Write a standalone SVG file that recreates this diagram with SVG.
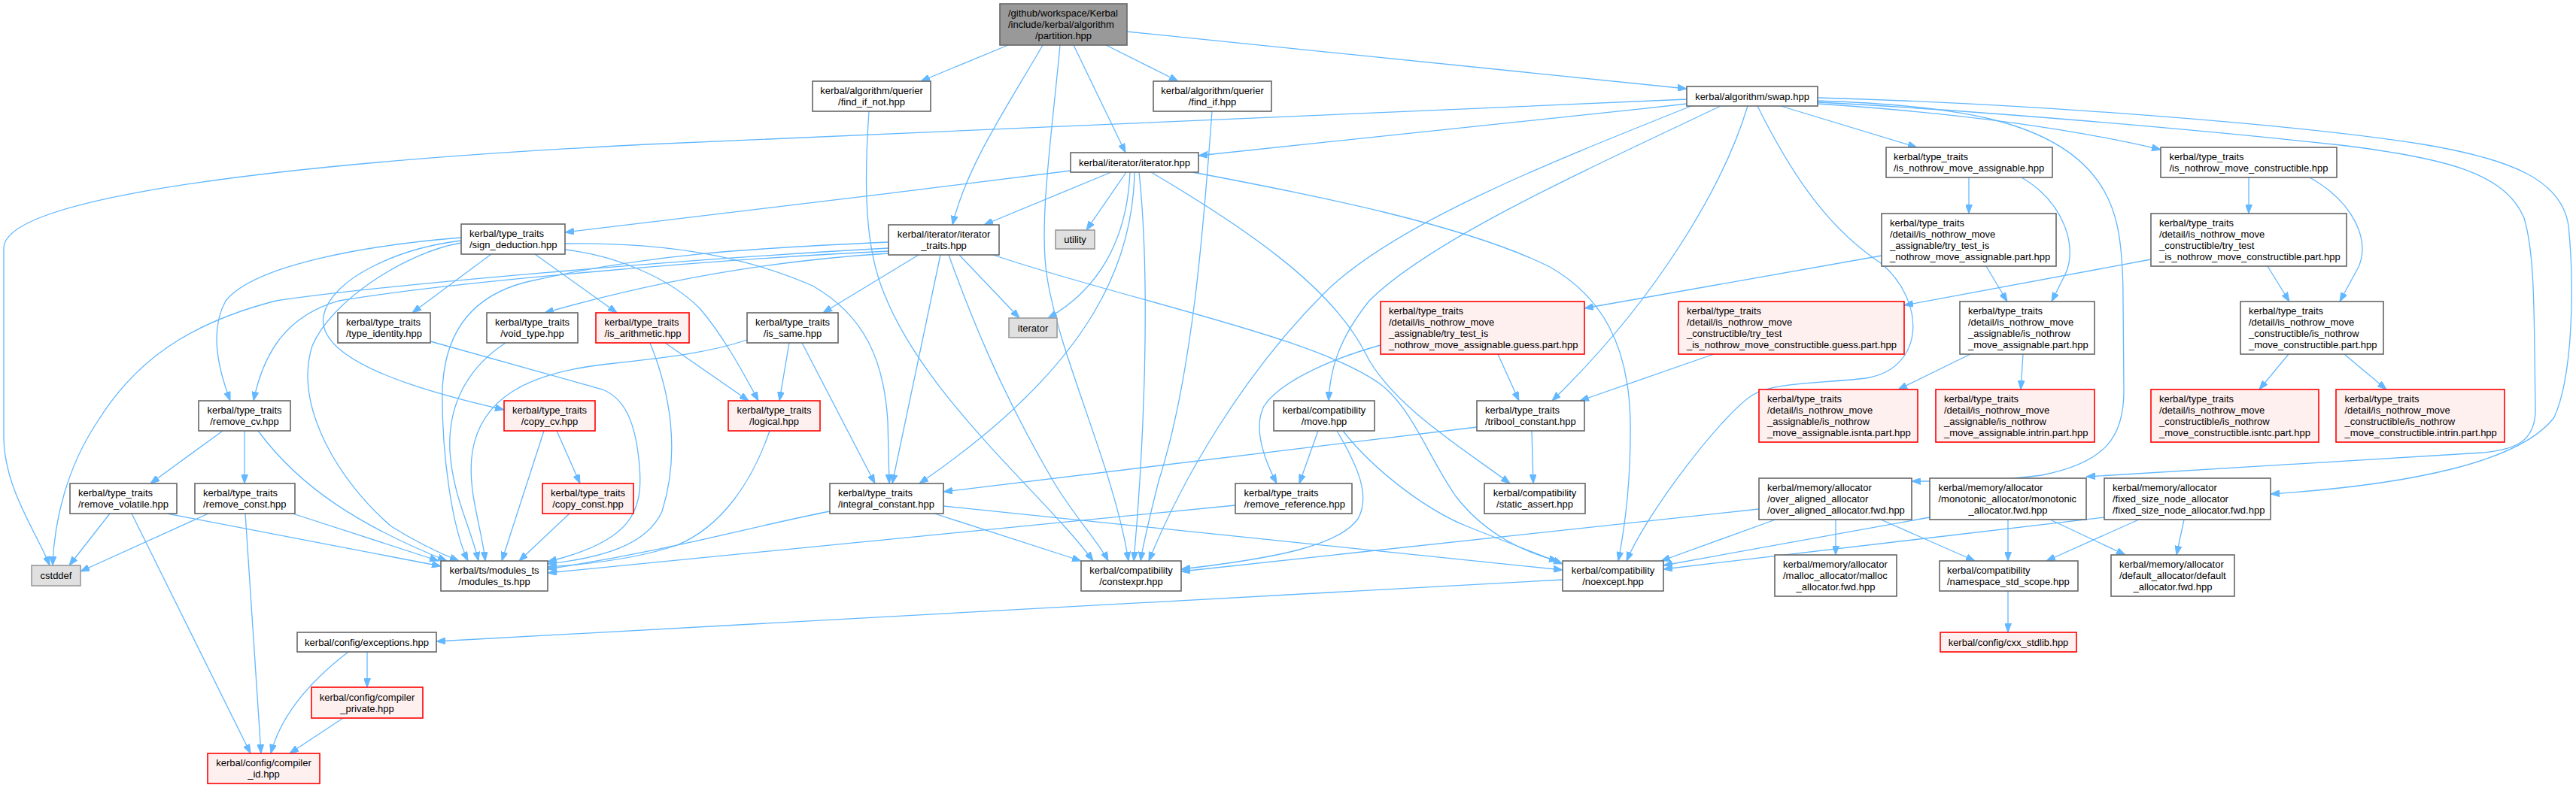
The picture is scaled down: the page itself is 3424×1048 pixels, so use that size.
<svg xmlns="http://www.w3.org/2000/svg" width="3424" height="1048" viewBox="0 0 3424 1048">
<defs>
<style>
.e{fill:none;stroke:#63b8ff;stroke-width:1.3;marker-end:url(#a)}
.n rect{fill:#ffffff;stroke:#666666;stroke-width:1.6}
.r rect{fill:#fff0f0;stroke:#ff0000;stroke-width:1.6}
.g rect{fill:#e0e0e0;stroke:#999999;stroke-width:1.6}
.mn rect{fill:#999999;stroke:#666666;stroke-width:1.6}
text{font-family:"Liberation Sans",Arial,Helvetica,sans-serif;font-size:13px;fill:#000000}
.c{text-anchor:middle}
</style>
<marker id="a" markerWidth="12" markerHeight="9" refX="12" refY="4.5" orient="auto" markerUnits="userSpaceOnUse"><path d="M0,0 L12,4.5 L0,9 z" fill="#63b8ff" stroke="#63b8ff" stroke-width="1"/></marker>
</defs>
<rect x="0" y="0" width="3424" height="1048" fill="#ffffff"/>
<g id="connectors">
<path class="e" d="M1340,60 L1224,108"/>
<path class="e" d="M1470,60 L1566,108"/>
<path class="e" d="M1386,60 C1340,140 1285,220 1266,299"/>
<path class="e" d="M1409,60 C1398,180 1380,300 1392,370 C1410,480 1480,620 1500,746"/>
<path class="e" d="M1427,60 L1496,203"/>
<path class="e" d="M1498,42 L2242,118"/>
<path class="e" d="M1155,148 C1148,250 1150,330 1175,390 C1230,530 1390,660 1453,746"/>
<path class="e" d="M1611,148 C1600,300 1585,500 1540,640 C1530,680 1520,720 1516,746"/>
<path class="e" d="M1423,227 C1200,255 900,292 751,309"/>
<path class="e" d="M1477,229 L1308,299"/>
<path class="e" d="M1497,229 L1444,306"/>
<path class="e" d="M1502,229 C1498,320 1460,385 1393,423"/>
<path class="e" d="M1508,229 C1506,340 1460,480 1222,643"/>
<path class="e" d="M1514,229 C1530,380 1520,600 1507,746"/>
<path class="e" d="M1530,229 C1650,300 1770,380 1815,470 C1850,540 1950,600 2007,643"/>
<path class="e" d="M1585,229 C1750,260 1950,300 2060,355 C2130,395 2165,460 2167,560 C2168,640 2160,700 2151,746"/>
<path class="e" d="M2242,138 C2000,165 1750,192 1593,207"/>
<path class="e" d="M2242,132 L860,192 C400,215 5,260 5,330 L5,580 C5,650 50,710 66,752"/>
<path class="e" d="M2367,141 L2548,196"/>
<path class="e" d="M2416,138 C2600,150 2750,170 2872,199"/>
<path class="e" d="M2416,134 C2600,140 2720,160 2780,230 C2815,270 2822,320 2822,400 L2823,520 C2823,580 2800,615 2714,632 C2650,640 2600,640 2541,640"/>
<path class="e" d="M2416,136 C2600,145 2900,170 3111,193 C3250,210 3330,230 3355,290 C3370,340 3368,420 3370,540 C3372,590 3340,598 3300,602 C3100,615 2900,625 2773,634"/>
<path class="e" d="M2416,130 C2700,138 3050,165 3221,192 C3340,212 3405,240 3414,300 C3422,380 3420,500 3395,555 C3350,615 3200,645 3018,657"/>
<path class="e" d="M2287,141 C2100,230 1900,320 1820,400 C1780,450 1768,490 1766,533"/>
<path class="e" d="M2323,141 C2290,250 2200,400 2063,533"/>
<path class="e" d="M2248,141 C2050,220 1850,300 1760,390 C1650,500 1570,640 1527,746"/>
<path class="e" d="M2336,141 C2390,250 2440,310 2500,350 C2560,400 2560,490 2480,503 C2420,510 2360,508 2330,525 C2290,550 2190,680 2162,746"/>
<path class="e" d="M2617,236 L2617,284"/>
<path class="e" d="M2687,236 C2745,270 2762,330 2745,365 L2727,401"/>
<path class="e" d="M2989,236 L2989,284"/>
<path class="e" d="M3070,236 C3130,270 3150,320 3135,355 L3110,401"/>
<path class="e" d="M2501,340 L2106,410"/>
<path class="e" d="M2859,345 L2531,406"/>
<path class="e" d="M2640,354 L2668,401"/>
<path class="e" d="M3014,354 L3043,401"/>
<path class="e" d="M1991,471 L2019,533"/>
<path class="e" d="M2278,471 L2100,533"/>
<path class="e" d="M1835,459 C1760,480 1700,510 1680,540 C1665,570 1680,610 1697,643"/>
<path class="e" d="M2619,471 L2523,518"/>
<path class="e" d="M2689,471 L2686,518"/>
<path class="e" d="M3042,471 L3003,518"/>
<path class="e" d="M3116,471 L3172,518"/>
<path class="e" d="M2036,573 L2038,643"/>
<path class="e" d="M1963,568 L1254,654"/>
<path class="e" d="M1752,573 L1727,643"/>
<path class="e" d="M1777,573 C1805,620 1822,660 1805,690 C1780,725 1700,742 1570,757"/>
<path class="e" d="M1785,573 C1830,630 1900,680 1950,700 C2000,720 2040,735 2077,750"/>
<path class="e" d="M2338,677 L1570,760"/>
<path class="e" d="M1320,339 C1500,400 1760,450 1840,515 C1880,550 1900,610 1935,660 C1975,712 2030,736 2071,746"/>
<path class="e" d="M1254,673 L2077,758"/>
<path class="e" d="M1242,683 L1437,746"/>
<path class="e" d="M1103,680 C1000,700 900,730 728,757"/>
<path class="e" d="M2360,691 L2208,746"/>
<path class="e" d="M2440,691 L2440,738"/>
<path class="e" d="M2500,691 L2625,746"/>
<path class="e" d="M2565,688 L2211,752"/>
<path class="e" d="M2797,688 L2211,757"/>
<path class="e" d="M2669,691 L2669,746"/>
<path class="e" d="M2725,691 L2825,738"/>
<path class="e" d="M2843,691 L2720,746"/>
<path class="e" d="M2903,691 L2893,738"/>
<path class="e" d="M2669,786 L2669,841"/>
<path class="e" d="M2077,771 L580,853"/>
<path class="e" d="M488,867 L488,914"/>
<path class="e" d="M463,867 C420,900 375,945 360,1002"/>
<path class="e" d="M456,955 L385,1002"/>
<path class="e" d="M175,683 L333,1002"/>
<path class="e" d="M326,683 L347,1002"/>
<path class="e" d="M146,683 L92,752"/>
<path class="e" d="M277,683 L107,760"/>
<path class="e" d="M222,683 L586,753"/>
<path class="e" d="M389,683 L583,746"/>
<path class="e" d="M296,573 L200,643"/>
<path class="e" d="M325,573 L325,643"/>
<path class="e" d="M343,573 C400,650 480,700 594,746"/>
<path class="e" d="M740,573 L771,643"/>
<path class="e" d="M723,573 L667,746"/>
<path class="e" d="M757,683 L690,746"/>
<path class="e" d="M653,338 L548,416"/>
<path class="e" d="M711,338 L820,416"/>
<path class="e" d="M613,316 C500,325 340,350 300,400 C278,440 290,490 306,533"/>
<path class="e" d="M613,320 C530,330 440,370 430,420 C420,480 560,520 670,545"/>
<path class="e" d="M613,323 C540,335 440,400 415,460 C390,540 450,640 520,700 C560,725 590,738 610,746"/>
<path class="e" d="M751,332 C820,340 890,370 930,410 C960,445 985,490 1008,533"/>
<path class="e" d="M751,324 C900,322 1000,345 1080,380 C1150,420 1175,480 1180,560 L1182,643"/>
<path class="e" d="M1049,456 L1036,533"/>
<path class="e" d="M1066,456 L1163,643"/>
<path class="e" d="M993,452 C940,470 880,476 800,485 C700,497 640,530 628,600 C620,650 640,700 645,746"/>
<path class="e" d="M884,456 L995,533"/>
<path class="e" d="M864,456 C890,520 905,600 880,680 C860,725 800,742 728,750"/>
<path class="e" d="M1023,573 C1000,640 960,700 900,725 C850,742 790,750 728,754"/>
<path class="e" d="M1642,672 L728,762"/>
<path class="e" d="M572,454 L801,518 C830,530 845,560 850,620 C855,680 840,720 728,747"/>
<path class="e" d="M672,456 C620,490 595,540 598,600 C602,660 625,700 636,746"/>
<path class="e" d="M1181,322 C1000,330 860,338 700,375 C620,395 590,450 588,520 C587,600 600,700 622,746"/>
<path class="e" d="M1181,330 C900,345 500,380 367,400 C250,430 180,480 130,560 C90,620 72,690 70,752"/>
<path class="e" d="M1181,334 C950,345 600,375 450,400 C380,420 350,470 337,533"/>
<path class="e" d="M1181,337 C1000,348 850,380 724,416"/>
<path class="e" d="M1275,339 L1355,423"/>
<path class="e" d="M1221,339 L1094,416"/>
<path class="e" d="M1250,339 L1186,643"/>
<path class="e" d="M1261,339 C1290,420 1330,520 1400,640 C1430,690 1460,720 1473,746"/>
</g>
<g id="node_main" class="mn"><rect x="1329" y="5" width="169" height="55"/><text><tspan x="1340" y="22">/github/workspace/Kerbal</tspan><tspan x="1340" y="37">/include/kerbal/algorithm</tspan><tspan class="c" x="1413.5" y="52">/partition.hpp</tspan></text></g>
<g id="node_find_if_not" class="n"><rect x="1080" y="108" width="157" height="40"/><text class="c"><tspan x="1158.5" y="125">kerbal/algorithm/querier</tspan><tspan x="1158.5" y="140">/find_if_not.hpp</tspan></text></g>
<g id="node_find_if" class="n"><rect x="1533" y="108" width="157" height="40"/><text class="c"><tspan x="1611.5" y="125">kerbal/algorithm/querier</tspan><tspan x="1611.5" y="140">/find_if.hpp</tspan></text></g>
<g id="node_swap" class="n"><rect x="2242" y="115" width="174" height="26"/><text class="c" x="2329" y="132.5">kerbal/algorithm/swap.hpp</text></g>
<g id="node_iterator_hpp" class="n"><rect x="1423" y="203" width="170" height="26"/><text class="c" x="1508" y="220.5">kerbal/iterator/iterator.hpp</text></g>
<g id="node_is_nothrow_move_assignable" class="n"><rect x="2507" y="196" width="221" height="40"/><text><tspan x="2517" y="213">kerbal/type_traits</tspan><tspan x="2517" y="228">/is_nothrow_move_assignable.hpp</tspan></text></g>
<g id="node_is_nothrow_move_constructible" class="n"><rect x="2872" y="196" width="234" height="40"/><text><tspan x="2883.5" y="213">kerbal/type_traits</tspan><tspan x="2883.5" y="228">/is_nothrow_move_constructible.hpp</tspan></text></g>
<g id="node_iterator_traits" class="n"><rect x="1181" y="299" width="147" height="40"/><text class="c"><tspan x="1254.5" y="316">kerbal/iterator/iterator</tspan><tspan x="1254.5" y="331">_traits.hpp</tspan></text></g>
<g id="node_utility" class="g"><rect x="1403" y="306" width="52" height="25"/><text class="c" x="1429" y="323">utility</text></g>
<g id="node_sign_deduction" class="n"><rect x="613" y="298" width="138" height="40"/><text><tspan x="624" y="315">kerbal/type_traits</tspan><tspan x="624" y="330">/sign_deduction.hpp</tspan></text></g>
<g id="node_try_test_assignable_part" class="n"><rect x="2501" y="284" width="232" height="70"/><text><tspan x="2512" y="301">kerbal/type_traits</tspan><tspan x="2512" y="316">/detail/is_nothrow_move</tspan><tspan x="2512" y="331">_assignable/try_test_is</tspan><tspan x="2512" y="346">_nothrow_move_assignable.part.hpp</tspan></text></g>
<g id="node_try_test_constructible_part" class="n"><rect x="2859" y="284" width="260" height="70"/><text><tspan x="2870" y="301">kerbal/type_traits</tspan><tspan x="2870" y="316">/detail/is_nothrow_move</tspan><tspan x="2870" y="331">_constructible/try_test</tspan><tspan x="2870" y="346">_is_nothrow_move_constructible.part.hpp</tspan></text></g>
<g id="node_type_identity" class="n"><rect x="449" y="416" width="123" height="40"/><text><tspan x="460" y="433">kerbal/type_traits</tspan><tspan x="460" y="448">/type_identity.hpp</tspan></text></g>
<g id="node_void_type" class="n"><rect x="647" y="416" width="121" height="40"/><text class="c"><tspan x="707.5" y="433">kerbal/type_traits</tspan><tspan x="707.5" y="448">/void_type.hpp</tspan></text></g>
<g id="node_is_arithmetic" class="r"><rect x="792" y="416" width="124" height="40"/><text><tspan x="803.5" y="433">kerbal/type_traits</tspan><tspan x="803.5" y="448">/is_arithmetic.hpp</tspan></text></g>
<g id="node_is_same" class="n"><rect x="993" y="416" width="121" height="40"/><text class="c"><tspan x="1053.5" y="433">kerbal/type_traits</tspan><tspan x="1053.5" y="448">/is_same.hpp</tspan></text></g>
<g id="node_iterator" class="g"><rect x="1341" y="423" width="64" height="26"/><text class="c" x="1373" y="440.5">iterator</text></g>
<g id="node_assignable_guess" class="r"><rect x="1835" y="401" width="271" height="70"/><text><tspan x="1846" y="418">kerbal/type_traits</tspan><tspan x="1846" y="433">/detail/is_nothrow_move</tspan><tspan x="1846" y="448">_assignable/try_test_is</tspan><tspan x="1846" y="463">_nothrow_move_assignable.guess.part.hpp</tspan></text></g>
<g id="node_constructible_guess" class="r"><rect x="2231" y="401" width="300" height="70"/><text><tspan x="2242" y="418">kerbal/type_traits</tspan><tspan x="2242" y="433">/detail/is_nothrow_move</tspan><tspan x="2242" y="448">_constructible/try_test</tspan><tspan x="2242" y="463">_is_nothrow_move_constructible.guess.part.hpp</tspan></text></g>
<g id="node_assignable_part" class="n"><rect x="2605" y="401" width="179" height="70"/><text><tspan x="2616" y="418">kerbal/type_traits</tspan><tspan x="2616" y="433">/detail/is_nothrow_move</tspan><tspan x="2616" y="448">_assignable/is_nothrow</tspan><tspan x="2616" y="463">_move_assignable.part.hpp</tspan></text></g>
<g id="node_constructible_part" class="n"><rect x="2978" y="401" width="190" height="70"/><text><tspan x="2989" y="418">kerbal/type_traits</tspan><tspan x="2989" y="433">/detail/is_nothrow_move</tspan><tspan x="2989" y="448">_constructible/is_nothrow</tspan><tspan x="2989" y="463">_move_constructible.part.hpp</tspan></text></g>
<g id="node_assignable_isnta" class="r"><rect x="2338" y="518" width="211" height="70"/><text><tspan x="2349" y="535">kerbal/type_traits</tspan><tspan x="2349" y="550">/detail/is_nothrow_move</tspan><tspan x="2349" y="565">_assignable/is_nothrow</tspan><tspan x="2349" y="580">_move_assignable.isnta.part.hpp</tspan></text></g>
<g id="node_assignable_intrin" class="r"><rect x="2573" y="518" width="211" height="70"/><text><tspan x="2584" y="535">kerbal/type_traits</tspan><tspan x="2584" y="550">/detail/is_nothrow_move</tspan><tspan x="2584" y="565">_assignable/is_nothrow</tspan><tspan x="2584" y="580">_move_assignable.intrin.part.hpp</tspan></text></g>
<g id="node_constructible_isntc" class="r"><rect x="2859" y="518" width="223" height="70"/><text><tspan x="2870" y="535">kerbal/type_traits</tspan><tspan x="2870" y="550">/detail/is_nothrow_move</tspan><tspan x="2870" y="565">_constructible/is_nothrow</tspan><tspan x="2870" y="580">_move_constructible.isntc.part.hpp</tspan></text></g>
<g id="node_constructible_intrin" class="r"><rect x="3105" y="518" width="224" height="70"/><text><tspan x="3116.5" y="535">kerbal/type_traits</tspan><tspan x="3116.5" y="550">/detail/is_nothrow_move</tspan><tspan x="3116.5" y="565">_constructible/is_nothrow</tspan><tspan x="3116.5" y="580">_move_constructible.intrin.part.hpp</tspan></text></g>
<g id="node_remove_cv" class="n"><rect x="264" y="533" width="122" height="40"/><text class="c"><tspan x="325" y="550">kerbal/type_traits</tspan><tspan x="325" y="565">/remove_cv.hpp</tspan></text></g>
<g id="node_copy_cv" class="r"><rect x="670" y="533" width="121" height="40"/><text class="c"><tspan x="730.5" y="550">kerbal/type_traits</tspan><tspan x="730.5" y="565">/copy_cv.hpp</tspan></text></g>
<g id="node_logical" class="r"><rect x="968" y="533" width="122" height="40"/><text class="c"><tspan x="1029" y="550">kerbal/type_traits</tspan><tspan x="1029" y="565">/logical.hpp</tspan></text></g>
<g id="node_move" class="n"><rect x="1693" y="533" width="134" height="40"/><text class="c"><tspan x="1760" y="550">kerbal/compatibility</tspan><tspan x="1760" y="565">/move.hpp</tspan></text></g>
<g id="node_tribool_constant" class="n"><rect x="1963" y="533" width="143" height="40"/><text><tspan x="1974" y="550">kerbal/type_traits</tspan><tspan x="1974" y="565">/tribool_constant.hpp</tspan></text></g>
<g id="node_remove_volatile" class="n"><rect x="93" y="643" width="142" height="40"/><text><tspan x="104" y="660">kerbal/type_traits</tspan><tspan x="104" y="675">/remove_volatile.hpp</tspan></text></g>
<g id="node_remove_const" class="n"><rect x="259" y="643" width="133" height="40"/><text><tspan x="270" y="660">kerbal/type_traits</tspan><tspan x="270" y="675">/remove_const.hpp</tspan></text></g>
<g id="node_copy_const" class="r"><rect x="721" y="643" width="121" height="40"/><text class="c"><tspan x="781.5" y="660">kerbal/type_traits</tspan><tspan x="781.5" y="675">/copy_const.hpp</tspan></text></g>
<g id="node_integral_constant" class="n"><rect x="1103" y="643" width="151" height="40"/><text><tspan x="1114" y="660">kerbal/type_traits</tspan><tspan x="1114" y="675">/integral_constant.hpp</tspan></text></g>
<g id="node_remove_reference" class="n"><rect x="1642" y="643" width="155" height="40"/><text><tspan x="1653.5" y="660">kerbal/type_traits</tspan><tspan x="1653.5" y="675">/remove_reference.hpp</tspan></text></g>
<g id="node_static_assert" class="n"><rect x="1973" y="643" width="134" height="40"/><text class="c"><tspan x="2040" y="660">kerbal/compatibility</tspan><tspan x="2040" y="675">/static_assert.hpp</tspan></text></g>
<g id="node_over_aligned_allocator" class="n"><rect x="2338" y="636" width="203" height="55"/><text><tspan x="2349" y="653">kerbal/memory/allocator</tspan><tspan x="2349" y="668">/over_aligned_allocator</tspan><tspan x="2349" y="683">/over_aligned_allocator.fwd.hpp</tspan></text></g>
<g id="node_monotonic_allocator" class="n"><rect x="2565" y="636" width="208" height="55"/><text><tspan x="2576.5" y="653">kerbal/memory/allocator</tspan><tspan x="2576.5" y="668">/monotonic_allocator/monotonic</tspan><tspan class="c" x="2669" y="683">_allocator.fwd.hpp</tspan></text></g>
<g id="node_fixed_size_node_allocator" class="n"><rect x="2797" y="636" width="221" height="55"/><text><tspan x="2808" y="653">kerbal/memory/allocator</tspan><tspan x="2808" y="668">/fixed_size_node_allocator</tspan><tspan x="2808" y="683">/fixed_size_node_allocator.fwd.hpp</tspan></text></g>
<g id="node_cstddef" class="g"><rect x="42" y="752" width="65" height="27"/><text class="c" x="74.5" y="770">cstddef</text></g>
<g id="node_modules_ts" class="n"><rect x="586" y="746" width="142" height="40"/><text class="c"><tspan x="657" y="763">kerbal/ts/modules_ts</tspan><tspan x="657" y="778">/modules_ts.hpp</tspan></text></g>
<g id="node_constexpr" class="n"><rect x="1437" y="746" width="133" height="40"/><text class="c"><tspan x="1503.5" y="763">kerbal/compatibility</tspan><tspan x="1503.5" y="778">/constexpr.hpp</tspan></text></g>
<g id="node_noexcept" class="n"><rect x="2077" y="746" width="134" height="40"/><text class="c"><tspan x="2144" y="763">kerbal/compatibility</tspan><tspan x="2144" y="778">/noexcept.hpp</tspan></text></g>
<g id="node_malloc_allocator" class="n"><rect x="2359" y="738" width="162" height="55"/><text><tspan x="2370" y="755">kerbal/memory/allocator</tspan><tspan x="2370" y="770">/malloc_allocator/malloc</tspan><tspan class="c" x="2440" y="785">_allocator.fwd.hpp</tspan></text></g>
<g id="node_namespace_std_scope" class="n"><rect x="2578" y="746" width="184" height="40"/><text><tspan x="2588" y="763">kerbal/compatibility</tspan><tspan x="2588" y="778">/namespace_std_scope.hpp</tspan></text></g>
<g id="node_default_allocator" class="n"><rect x="2806" y="738" width="164" height="55"/><text><tspan x="2817" y="755">kerbal/memory/allocator</tspan><tspan x="2817" y="770">/default_allocator/default</tspan><tspan class="c" x="2888" y="785">_allocator.fwd.hpp</tspan></text></g>
<g id="node_exceptions" class="n"><rect x="395" y="841" width="185" height="26"/><text class="c" x="487.5" y="858.5">kerbal/config/exceptions.hpp</text></g>
<g id="node_cxx_stdlib" class="r"><rect x="2579" y="841" width="181" height="26"/><text class="c" x="2669.5" y="858.5">kerbal/config/cxx_stdlib.hpp</text></g>
<g id="node_compiler_private" class="r"><rect x="414" y="914" width="148" height="41"/><text class="c"><tspan x="488" y="931.5">kerbal/config/compiler</tspan><tspan x="488" y="946.5">_private.hpp</tspan></text></g>
<g id="node_compiler_id" class="r"><rect x="276" y="1002" width="149" height="40"/><text class="c"><tspan x="350.5" y="1019">kerbal/config/compiler</tspan><tspan x="350.5" y="1034">_id.hpp</tspan></text></g>
</svg>
